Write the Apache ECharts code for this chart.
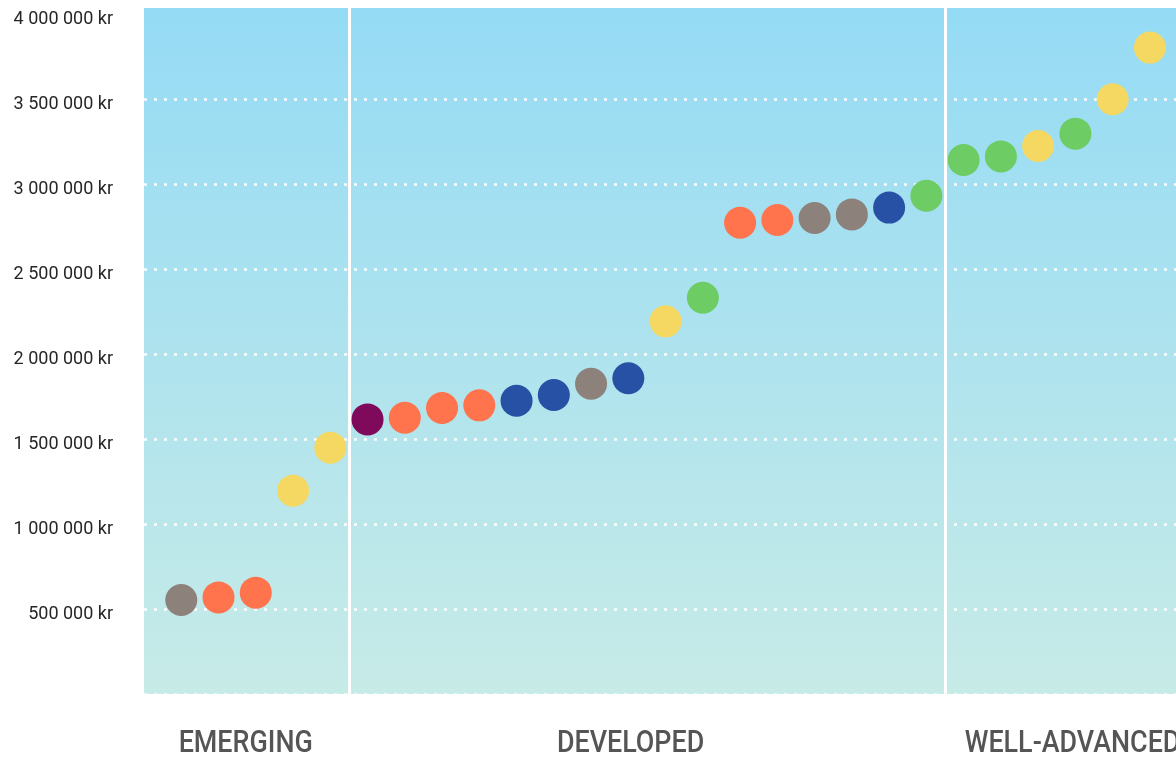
<!DOCTYPE html>
<html>
<head>
<meta charset="utf-8">
<script src="https://cdn.jsdelivr.net/npm/echarts@6/dist/echarts.min.js"></script>
<style>
html,body{margin:0;padding:0;background:#fff;}
#chart{width:1176px;height:759px;}
</style>
</head>
<body>
<div id="chart"></div>
<script>
// ---- data ----
const values = [553000, 568000, 596000, 1196000, 1449000, 1615000, 1625000, 1682000, 1698000, 1725000,
  1759000, 1825000, 1857000, 2192000, 2331000, 2772000, 2788000, 2800000, 2821000, 2861000,
  2931000, 3141000, 3162000, 3223000, 3296000, 3498000, 3802000];
const groups = ['gray','orange','orange','yellow','yellow','purple','orange','orange','orange','blue',
  'blue','gray','blue','yellow','green','orange','orange','gray','gray','blue',
  'green','green','green','yellow','green','yellow','yellow'];
const yTicks = [500000, 1000000, 1500000, 2000000, 2500000, 3000000, 3500000, 4000000];
const yTickLabels = ['500 000 kr','1 000 000 kr','1 500 000 kr','2 000 000 kr','2 500 000 kr','3 000 000 kr','3 500 000 kr','4 000 000 kr'];
const gridValues = [0, 500000, 1000000, 1500000, 2000000, 2500000, 3000000, 3500000];
const dividers = [5.5, 21.5];
const stages = ['EMERGING', 'DEVELOPED', 'WELL-ADVANCED'];
const stagePos = [2.73, 13.06, 22.03];
const stageAlign = ['center', 'center', 'left'];

// ---- style ----
const palette = {gray:'#8d817c', orange:'#ff734d', yellow:'#f5d862', purple:'#7f0a5c', blue:'#2751a4', green:'#6dcd64'};

const chart = echarts.init(document.getElementById('chart'));
const option = {
  animation: false,
  grid: {
    left: 144, right: 0, top: 8, bottom: 65,
    show: true, borderWidth: 0,
    backgroundColor: new echarts.graphic.LinearGradient(0, 0, 0, 1, [
      {offset: 0, color: '#95dbf5'},
      {offset: 1, color: '#c7ebe7'}
    ])
  },
  xAxis: {
    type: 'value', min: 0, max: 27.7,
    axisLine: {show: false}, axisTick: {show: false}, axisLabel: {show: false}, splitLine: {show: false}
  },
  yAxis: {
    type: 'value', min: 0, max: 4035000, interval: 500000,
    axisLine: {show: false}, axisTick: {show: false}, splitLine: {show: false},
    axisLabel: {
      showMinLabel: false, showMaxLabel: false,
      margin: 31, color: '#262626', fontFamily: 'Roboto', fontSize: 18,
      verticalAlign: 'top', lineHeight: 12,
      formatter: function (v) { const i = yTicks.indexOf(v); return i >= 0 ? yTickLabels[i] : ''; }
    }
  },
  series: [
    {
      type: 'scatter', z: 1, data: [], silent: true,
      markLine: {
        silent: true, symbol: 'none', label: {show: false},
        lineStyle: {color: '#ffffff', type: [3, 7], width: 2.5, opacity: 0.95},
        data: gridValues.map(v => ({yAxis: v}))
      }
    },
    {
      type: 'scatter', z: 2, data: [], silent: true,
      markLine: {
        silent: true, symbol: 'none', label: {show: false},
        lineStyle: {color: '#ffffff', type: 'solid', width: 3, opacity: 1},
        data: dividers.map(v => ({xAxis: v}))
      }
    },
    {
      type: 'scatter', z: 5, symbolSize: 32,
      data: values.map((v, i) => ({value: [i + 1, v], itemStyle: {color: palette[groups[i]], opacity: 1}}))
    }
  ]
};
chart.setOption(option);

const baseY = chart.convertToPixel({gridIndex: 0}, [0, 0])[1];
chart.setOption({
  graphic: stages.map((s, i) => ({
    type: 'text',
    x: chart.convertToPixel({gridIndex: 0}, [stagePos[i], 0])[0],
    y: baseY + 50,
    scaleX: 0.84,
    style: {
      text: s, fill: '#555555',
      font: '500 32px Roboto, sans-serif',
      align: stageAlign[i], verticalAlign: 'middle'
    }
  }))
});
</script>
</body>
</html>
